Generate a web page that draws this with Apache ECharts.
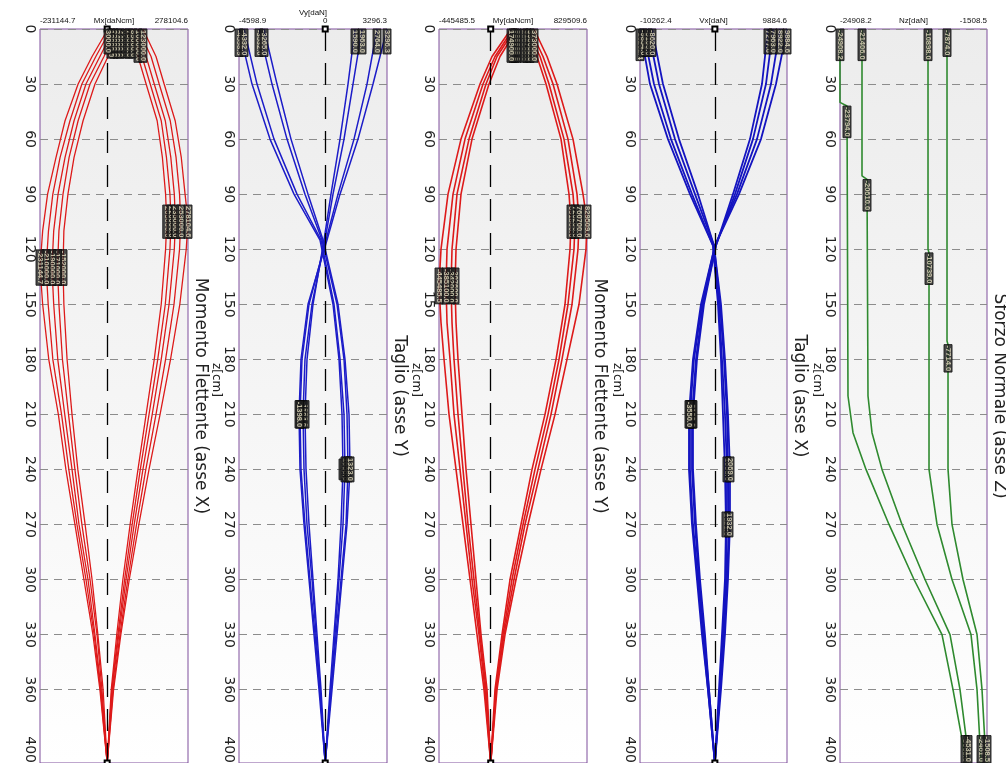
<!DOCTYPE html>
<html><head><meta charset="utf-8">
<script src="https://cdn.jsdelivr.net/npm/echarts@6/dist/echarts.min.js"></script>
<style>html,body{margin:0;padding:0;background:#fff}#c{width:1006px;height:763px}</style>
</head><body><div id="c"></div>
<script>
// ---- z axis (cm) ----
const zTicks = [0,30,60,90,120,150,180,210,240,270,300,330,360];
const zLabels = [0,30,60,90,120,150,180,210,240,270,300,330,360,400];

// ---- Mx [daNcm] ----
const mxRange = [-231144.7, 278104.6];
const mxZR = [0,15,30,50,70,90,105,120,150,180,210,240,270,300,330,360,400];
const mxR1 = [62000,106000,134000,172000,190000,201000,205000,201000,186000,162000,134000,106000,79000,54000,33000,14000,0];
const mxR2 = [75000,120000,148000,186000,204000,216000,220000,216000,200000,174000,144000,114000,86000,60000,37000,16000,0];
const mxR3 = [89000,134000,162000,200000,219000,231000,235000,231000,213000,186000,155000,123000,93000,65000,40000,17000,0];
const mxR4 = [106000,151000,179000,217000,237000,249000,253000,249000,230000,201000,168000,133000,101000,71000,44000,20000,0];
const mxR5 = [123000,168000,196000,234000,255000,268000,278104.6,272000,250000,218000,182000,144000,109000,76000,47000,22000,0];
const mxZL = [0,15,30,50,70,90,110,130,150,180,210,240,270,300,330,360,400];
const mxL1 = [44000,3000,-42000,-83000,-114000,-135000,-149000,-152000,-149000,-138000,-121000,-101000,-76000,-52000,-32000,-14000,0];
const mxL2 = [34000,-11000,-59000,-100000,-131000,-152000,-166000,-171000,-166000,-154000,-133000,-111000,-87000,-59000,-35000,-18000,0];
const mxL3 = [23000,-25000,-73000,-114000,-145000,-169000,-184000,-190000,-184000,-170000,-146000,-121000,-97000,-66000,-42000,-21000,0];
const mxL4 = [13000,-39000,-87000,-128000,-162000,-187000,-202000,-210000,-203000,-187000,-157000,-132000,-104000,-73000,-45000,-23000,0];
const mxL5 = [3000,-52000,-100000,-145000,-176000,-205000,-222000,-231144.7,-222000,-201000,-168000,-142000,-111000,-80000,-49000,-25000,0];

// ---- Vy [daN] ----
const vyRange = [-4598.9, 3296.3];
const vyZ = [0,30,60,90,115,150,180,210,240,270,300,330,360,400];
const vyL1 = [-4598.9,-3905,-2945,-1665,-277,416,736,896,950,843,683,469,256,0];
const vyL2 = [-4332,-3638,-2732,-1504,-224,469,790,1003,1056,950,736,523,309,0];
const vyL3 = [-3532,-2838,-2038,-1078,-171,630,1003,1163,1216,1110,843,576,309,0];
const vyL4 = [-3265,-2571,-1825,-918,-117,683,1056,1270,1323,1163,896,630,363,0];
const vyR1 = [1590,1216,790,309,-64,-651,-971,-1078,-1024,-864,-651,-437,-224,0];
const vyR2 = [1963,1483,1003,416,-11,-704,-1078,-1184,-1131,-971,-704,-491,-277,0];
const vyR3 = [2764,2230,1536,683,43,-864,-1238,-1344,-1291,-1078,-811,-544,-277,0];
const vyR4 = [3296.3,2550,1750,790,96,-918,-1291,-1398,-1344,-1131,-864,-598,-331,0];

// ---- My [daNcm] ----
const myRange = [-445485.5, 829509.6];
const myZR = [0,15,30,60,90,105,120,150,180,210,240,270,300,330,360,400];
const myR1 = [286900,398900,476400,605600,674600,691800,683200,640100,562600,467800,355800,261000,166300,97300,37000,0];
const myR2 = [312700,424700,502300,631500,709000,726200,717600,665900,588400,493600,381600,278300,183500,106000,45700,0];
const myR3 = [338600,450600,536700,665900,743500,760700,752100,700400,614200,519500,407500,295500,200700,114600,45700,0];
const myR4 = [373000,485000,571200,709000,795200,829509.6,821000,760700,657300,553900,433300,321300,218000,123200,54300,0];
const myZL = [0,15,30,60,90,120,140,160,180,210,240,270,300,330,360,400];
const myL1 = [226600,80100,-14600,-161100,-255900,-298900,-307600,-298900,-281700,-247300,-212800,-169700,-126600,-83600,-31900,0];
const myL2 = [209300,54300,-40500,-186900,-290300,-333400,-342000,-333400,-316200,-281700,-238600,-195600,-143900,-92200,-40500,0];
const myL3 = [192100,37000,-66300,-221400,-324800,-376500,-385100,-376500,-350600,-316200,-264500,-212800,-161100,-100800,-49100,0];
const myL4 = [174900,11200,-92200,-255900,-367900,-428200,-445485.5,-428200,-402200,-359200,-298900,-238600,-178300,-118000,-57700,0];

// ---- Vx [daN] ----
const vxRange = [-10262.4, 9884.6];
const vxZ = [0,30,60,90,118,150,180,210,240,270,300,330,360,400];
const vxL1 = [-10262.4,-8895,-6428,-3413,-260,425,836,1110,1384,1521,1384,973,562,0];
const vxL2 = [-9854,-8346,-6016,-3138,-260,562,973,1384,1658,1658,1521,1110,699,0];
const vxL3 = [-9169,-7661,-5468,-2727,-123,699,1247,1658,1795,1932,1658,1247,699,0];
const vxL4 = [-8620,-7113,-4920,-2316,-123,836,1384,1795,2069,2069,1795,1384,836,0];
const vxR1 = [7277,6455,4810,2481,151,-1494,-2453,-3001,-3001,-2590,-2042,-1357,-809,0];
const vxR2 = [7963,7003,5222,2755,151,-1631,-2590,-3138,-3138,-2727,-2179,-1494,-809,0];
const vxR3 = [8922,7689,5770,3029,14,-1768,-2864,-3413,-3413,-3001,-2316,-1631,-946,0];
const vxR4 = [9884.6,8374,6318,3303,14,-1905,-3001,-3550,-3550,-3138,-2453,-1768,-946,0];

// ---- Nz [daN] ----
const nzRange = [-24908.2, -1508.5];
const nzZA = [0,40,42,200,220,240,270,300,330,360,390,400];
const nzA  = [-24908.2,-24908.2,-23794,-23635,-22839,-20769,-17108,-13128,-8670,-6919,-5327,-5008];
const nzZB = [0,80,82,200,220,240,270,300,330,360,390,400];
const nzB  = [-21406,-21406,-20610,-20451,-19814,-18222,-15038,-11377,-7397,-5805,-4690,-4531];
const nzZC = [0,120,122,240,270,300,330,360,390,400];
const nzC  = [-10898,-10898,-10739,-10739,-9465,-7078,-4053,-3098,-2620,-2461];
const nzZD = [0,170,172,240,270,300,330,360,390,400];
const nzD  = [-7874,-7874,-7714,-7714,-7078,-5327,-3098,-2302,-1824,-1508.5];

const panels = [
  {title:'Momento Flettente (asse X)', name:'Mx[daNcm]', range:mxRange, color:'#dd1a1a', lw:1.3, zero:true, showZero:false, zName:'', mode:'ext',
   curves:[[mxZR,mxR1],[mxZR,mxR2],[mxZR,mxR3],[mxZR,mxR4],[mxZR,mxR5],[mxZL,mxL1],[mxZL,mxL2],[mxZL,mxL3],[mxZL,mxL4],[mxZL,mxL5]]},
  {title:'Taglio (asse Y)', name:'Vy[daN]', range:vyRange, color:'#1c1cc8', lw:1.5, zero:true, showZero:true, zName:'z[cm]', mode:'ext',
   curves:[[vyZ,vyL1],[vyZ,vyL2],[vyZ,vyL3],[vyZ,vyL4],[vyZ,vyR1],[vyZ,vyR2],[vyZ,vyR3],[vyZ,vyR4]]},
  {title:'Momento Flettente (asse Y)', name:'My[daNcm]', range:myRange, color:'#dd1a1a', lw:1.6, zero:true, showZero:false, zName:'z[cm]', mode:'ext',
   curves:[[myZR,myR1],[myZR,myR2],[myZR,myR3],[myZR,myR4],[myZL,myL1],[myZL,myL2],[myZL,myL3],[myZL,myL4]]},
  {title:'Taglio (asse X)', name:'Vx[daN]', range:vxRange, color:'#1414c0', lw:1.8, zero:true, showZero:false, zName:'z[cm]', mode:'ext',
   curves:[[vxZ,vxL1],[vxZ,vxL2],[vxZ,vxL3],[vxZ,vxL4],[vxZ,vxR1],[vxZ,vxR2],[vxZ,vxR3],[vxZ,vxR4]]},
  {title:'Sforzo Normale (asse Z)', name:'Nz[daN]', range:nzRange, color:'#2f8a2f', lw:1.6, zero:false, showZero:false, zName:'z[cm]', mode:'step',
   curves:[[nzZA,nzA],[nzZB,nzB],[nzZC,nzC],[nzZD,nzD]]}
];

const lefts = [40, 239, 439, 640, 840];
const widths = [148, 148, 148, 147, 147];

function labelPoints(vs, mode) {
  const out = [{i:0, align:'left'}];
  if (mode === 'step') {
    for (let i = 1; i < vs.length; i++) if (vs[i] !== vs[i-1]) { out.push({i:i, align:'left'}); break; }
    out.push({i:vs.length-1, align:'right'});
    return out;
  }
  const s0 = Math.sign(vs[0]);
  const hasOpp = vs.some(v => Math.sign(v) === -s0);
  let best = -1, bv = 0;
  vs.forEach((v, i) => {
    if (i === 0) return;
    if (hasOpp && Math.sign(v) !== -s0) return;
    if (Math.abs(v) > bv) { bv = Math.abs(v); best = i; }
  });
  if (best > 0) out.push({i:best, align:'center'});
  return out;
}

const bg = new echarts.graphic.LinearGradient(0, 0, 0, 1, [
  {offset:0, color:'#ececec'}, {offset:0.55, color:'#f6f6f6'}, {offset:1, color:'#ffffff'}
]);

const grid = [], xAxis = [], yAxis = [], series = [];
panels.forEach((p, k) => {
  grid.push({left:lefts[k], top:29, width:widths[k], height:734, show:true, outerBoundsMode:'none',
    containLabel:false, borderColor:'#7e4e9c', borderWidth:1, backgroundColor:bg});
  const cv = p.showZero ? [p.range[0], 0, p.range[1]] : [p.range[0], p.range[1]];
  xAxis.push({gridIndex:k, type:'value', position:'top', min:p.range[0], max:p.range[1],
    axisLine:{show:false}, axisTick:{show:false}, splitLine:{show:false},
    axisLabel:{customValues:cv, alignMinLabel:'left', alignMaxLabel:'right', margin:4,
      fontSize:8, fontFamily:'Liberation Sans', color:'#111',
      formatter: v => (v === 0 ? '0' : v.toFixed(1))},
    name:p.name, nameLocation:'middle', nameGap: p.showZero ? 12 : 4, nameMoveOverlap:false,
    nameTextStyle:{fontSize:8, fontFamily:'Liberation Sans', color:'#111'}});
  yAxis.push({gridIndex:k, type:'value', inverse:true, min:0, max:400,
    axisLine:{show:false}, axisTick:{show:false, customValues:zTicks},
    axisLabel:{customValues:zLabels, rotate:-90, fontSize:14, fontFamily:'DejaVu Sans', color:'#222', margin:3,
      alignMaxLabel:'right'},
    splitLine:{show:true, lineStyle:{type:[8,6], color:'#8c8c8c', width:1}},
    name:p.zName, nameLocation:'middle', nameRotate:-90, nameGap:17, nameMoveOverlap:false,
    nameTextStyle:{fontSize:12, fontFamily:'DejaVu Sans', color:'#222', padding:[0,32,0,0]}});
  yAxis.push({gridIndex:k, type:'value', inverse:true, min:0, max:400, position:'right',
    axisLine:{show:false}, axisTick:{show:false}, axisLabel:{show:false}, splitLine:{show:false},
    name:p.title, nameLocation:'middle', nameRotate:-90, nameGap:4, nameMoveOverlap:false,
    nameTextStyle:{fontSize:17, fontFamily:'DejaVu Sans', color:'#222'}});

  const labelData = [];
  p.curves.forEach((c, j) => {
    const zs = c[0], vs = c[1];
    const s = {type:'line', xAxisIndex:k, yAxisIndex:2*k, symbol:'none', silent:true,
      data: vs.map((v, i) => [v, zs[i]]),
      lineStyle:{color:p.color, width:p.lw}, z:3};
    if (j === 0 && p.zero) {
      s.markLine = {silent:true, symbol:['emptyRect','emptyRect'], symbolSize:5, label:{show:false},
        lineStyle:{color:'#000', type:[22,12], width:1.3}, data:[{xAxis:0}]};
    }
    series.push(s);
    labelPoints(vs, p.mode).forEach(lp => {
      labelData.push({value:[vs[lp.i], zs[lp.i]], label:{align:lp.align}});
    });
  });
  series.push({type:'scatter', xAxisIndex:k, yAxisIndex:2*k, symbolSize:0, silent:true, z:5,
    data:labelData,
    label:{show:true, position:'inside', rotate:-90, verticalAlign:'middle',
      fontSize:7.5, fontWeight:'bold', fontFamily:'Liberation Sans', color:'#e6e0c0',
      backgroundColor:'#1c1c1c', borderColor:'#000', borderWidth:0.5, padding:[0,1],
      formatter: q => q.value[0].toFixed(1)}});
});

const chart = echarts.init(document.getElementById('c'));
chart.setOption({animation:false, backgroundColor:'#ffffff', grid, xAxis, yAxis, series});
</script>
</body></html>
